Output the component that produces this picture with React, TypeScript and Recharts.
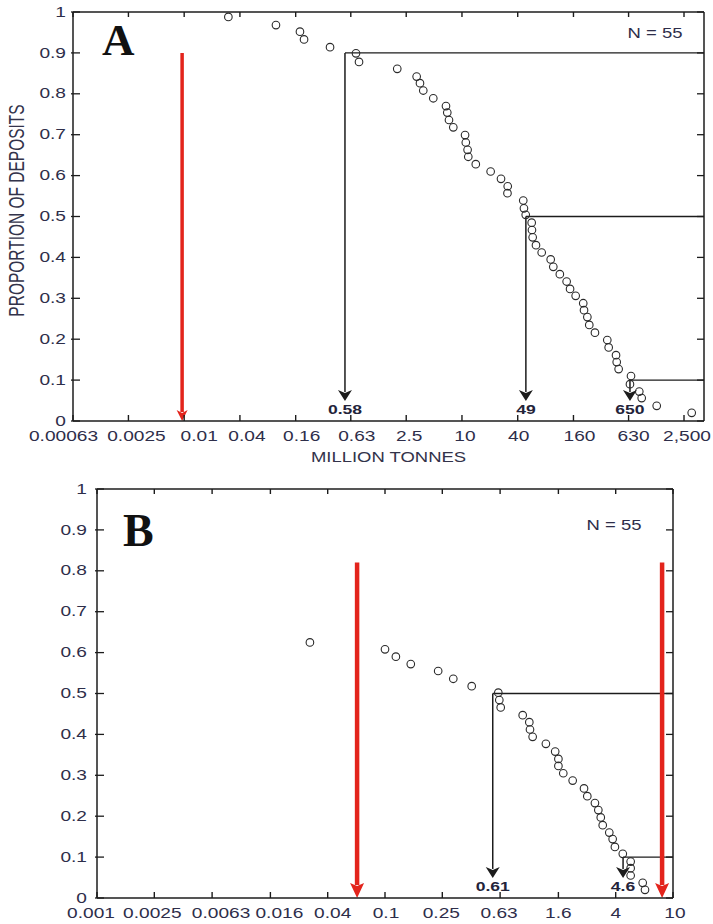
import { ReferenceLine, Scatter, ScatterChart, XAxis, YAxis } from "recharts";

// Two cumulative tonnage plots (A: full tonnage, B: contained metal), log x, proportion y.

const FONT = "'Liberation Sans', Arial, Helvetica, sans-serif";
const SERIF = "'Liberation Serif', 'Times New Roman', serif";
const INK = "#1c1c1c";
const TICK_TEXT = "#2e2e4a";
const RED = "#e3241c";
const STRETCH = 1.32;

const proportionTicks = [0, 0.1, 0.2, 0.3, 0.4, 0.5, 0.6, 0.7, 0.8, 0.9, 1];

// ---- panel A
const tonnageA = [
  0.03, 0.098, 0.178, 0.197, 0.376, 0.717, 0.773, 2.0, 3.24, 3.52, 3.82, 4.9, 6.72, 6.94, 7.24, 8.06, 10.8, 11.0,
  11.5, 11.7, 14.1, 20.4, 26.4, 31.2, 31.0, 45.9, 46.7, 48.8, 56.6, 57, 58.0, 63.0, 72.6, 90.8, 96.9, 114, 135, 147,
  169, 204, 208, 226, 237, 273, 371, 384, 461, 469, 492, 669, 652, 822, 873, 1268, 3027,
];
const proportionA = [
  0.988, 0.968, 0.952, 0.933, 0.914, 0.899, 0.878, 0.861, 0.842, 0.826, 0.808, 0.789, 0.77, 0.754, 0.736, 0.718,
  0.699, 0.681, 0.663, 0.646, 0.628, 0.61, 0.592, 0.574, 0.557, 0.539, 0.52, 0.504, 0.485, 0.467, 0.449, 0.43, 0.412,
  0.395, 0.377, 0.359, 0.341, 0.323, 0.306, 0.288, 0.271, 0.254, 0.235, 0.216, 0.198, 0.18, 0.161, 0.144, 0.127,
  0.11, 0.09, 0.072, 0.056, 0.037, 0.02,
];
const tonnageTicksA = [0.00063, 0.0025, 0.01, 0.04, 0.16, 0.63, 2.5, 10, 40, 160, 630, 2500];
const tonnageDomainA: [number, number] = [0.00063, 4110];
const guideAtA = [0.545, 49, 652];
const guideLevelA = [0.9, 0.5, 0.1];
const guideTextA = ["0.58", "49", "650"];
const redAtA = [0.0095];
const redTopA = 0.9;

// ---- panel B
const tonnageB = [
  0.0301, 0.1, 0.119, 0.151, 0.234, 0.298, 0.4, 0.612, 0.622, 0.636, 0.904, 1.005, 1.016, 1.06, 1.31, 1.52, 1.6, 1.6,
  1.73, 2.01, 2.41, 2.54, 2.87, 3.03, 3.15, 3.25, 3.61, 3.81, 3.95, 4.48, 5.08, 5.08, 5.08, 6.16, 6.39,
];
const proportionB = [
  0.625, 0.608, 0.59, 0.572, 0.555, 0.536, 0.518, 0.502, 0.484, 0.466, 0.447, 0.43, 0.412, 0.394, 0.377, 0.358, 0.34,
  0.323, 0.305, 0.287, 0.268, 0.249, 0.232, 0.215, 0.197, 0.178, 0.16, 0.144, 0.125, 0.108, 0.089, 0.073, 0.055, 0.037,
  0.02,
];
const tonnageTicksB = [0.001, 0.0025, 0.0063, 0.016, 0.04, 0.1, 0.25, 0.63, 1.6, 4, 10];
const tonnageDomainB: [number, number] = [0.001, 10];
const guideAtB = [0.56, 4.5];
const guideLevelB = [0.5, 0.1];
const guideTextB = ["0.61", "4.6"];
const redAtB = [0.064, 8.4];
const redTopB = 0.82;

const GUIDE_TIP = 0.049;

// tick-label nudges (px) — the scanned figure's labels sit a little off their ticks
const labelNudgeA = [-9.5, 8, 15, 7, 6, 6, 3, 3, 1, 6, 5, 3];
const labelNudgeB = [-6, -2, 9, 9, 5, 1, -1, -1, 0, 0, 2];

const formatTonnes = (v: number) => v.toLocaleString("en-US", { maximumFractionDigits: 6 });

function bottomTick(nudge: number[]) {
  return (p: any) => (
    <g>
      <line x1={p.x} x2={p.x} y1={p.y} y2={p.y - 6} stroke={INK} strokeWidth={1.4} />
      <text
        transform={`translate(${p.x + (nudge[p.index] ?? 0)},${p.y + 15}) scale(${STRETCH},1)`}
        textAnchor="middle"
        dominantBaseline="central"
        fontFamily={FONT}
        fontSize={14.5}
        fill={TICK_TEXT}
      >
        {formatTonnes(p.payload.value)}
      </text>
    </g>
  );
}

function leftTick(gap: number) {
  return (p: any) => (
    <g>
      <line x1={p.x - 2} x2={p.x + 7} y1={p.y} y2={p.y} stroke={INK} strokeWidth={1.3} />
      <text
        transform={`translate(${p.x - gap},${p.y}) scale(${STRETCH},1)`}
        textAnchor="end"
        dominantBaseline="central"
        fontFamily={FONT}
        fontSize={14.5}
        fill={TICK_TEXT}
      >
        {String(p.payload.value)}
      </text>
    </g>
  );
}

// top / right axes are 1px wide; ticks start at the frame and point inward
const topTick = (p: any) => <line x1={p.x} x2={p.x} y1={p.y} y2={p.y + 5} stroke={INK} strokeWidth={1.4} />;
const rightTick = (p: any) => <line x1={p.x} x2={p.x - 7} y1={p.y} y2={p.y} stroke={INK} strokeWidth={1.3} />;

function arrowShape(color: string, lineWidth: number, headW: number, headH: number, text?: string) {
  return (p: any) => {
    const { x1, y1, x2, y2 } = p;
    const base = y2 - headH;
    return (
      <g>
        <line x1={x1} y1={y1} x2={x2} y2={base + 2} stroke={color} strokeWidth={lineWidth} />
        <polygon
          points={`${x2 - headW / 2},${base} ${x2},${base + 3} ${x2 + headW / 2},${base} ${x2},${y2}`}
          fill={color}
        />
        {text ? (
          <text
            transform={`translate(${x2},${y2 + 8}) scale(1.35,1)`}
            textAnchor="middle"
            dominantBaseline="central"
            fontFamily={FONT}
            fontWeight="bold"
            fontSize={13}
            fill="#23233a"
          >
            {text}
          </text>
        ) : null}
      </g>
    );
  };
}

const circle = (p: any) => <circle cx={p.cx} cy={p.cy} r={3.8} fill="none" stroke="#2a2a2a" strokeWidth={1.1} />;
const nothing = () => <g />;

function CumulativePanel({
  height,
  margin,
  yAxisWidth,
  xAxisHeight,
  domain,
  ticks,
  tonnage,
  proportion,
  guideAt,
  guideLevel,
  guideText,
  redAt,
  redTop,
  redWidth,
  redHead,
  labelGap,
  labelNudge,
  xTitle,
  yTitle,
}: {
  height: number;
  margin: { top: number; right: number; bottom: number; left: number };
  yAxisWidth: number;
  xAxisHeight: number;
  domain: [number, number];
  ticks: number[];
  tonnage: number[];
  proportion: number[];
  guideAt: number[];
  guideLevel: number[];
  guideText: string[];
  redAt: number[];
  redTop: number;
  redWidth: number;
  redHead: [number, number];
  labelGap: number;
  labelNudge: number[];
  xTitle?: string;
  yTitle?: string;
}) {
  const data = tonnage.map((t, i) => ({ t, p: proportion[i] }));
  const axisLine = { stroke: INK, strokeWidth: 1.5 };

  return (
    <ScatterChart width={713} height={height} margin={margin} accessibilityLayer={false}>
      <XAxis
        dataKey="t"
        type="number"
        scale="log"
        domain={domain}
        allowDataOverflow
        ticks={ticks}
        interval={0}
        height={xAxisHeight}
        tickSize={0}
        tickMargin={0}
        tickLine={false}
        axisLine={axisLine}
        tick={bottomTick(labelNudge)}
        label={
          xTitle
            ? {
                value: xTitle,
                content: (lp: any) => (
                  <text
                    transform={`translate(${lp.viewBox.x + lp.viewBox.width / 2},${lp.viewBox.y + 36}) scale(${STRETCH},1)`}
                    textAnchor="middle"
                    dominantBaseline="central"
                    fontFamily={FONT}
                    fontSize={14}
                    fill="#33334a"
                  >
                    {xTitle}
                  </text>
                ),
              }
            : undefined
        }
      />
      <XAxis
        xAxisId="top"
        dataKey="t"
        orientation="top"
        type="number"
        scale="log"
        domain={domain}
        allowDataOverflow
        ticks={ticks}
        interval={0}
        height={1}
        tickSize={0}
        tickMargin={0}
        tickLine={false}
        axisLine={axisLine}
        tick={topTick}
      />
      <YAxis
        dataKey="p"
        type="number"
        domain={[0, 1]}
        allowDataOverflow
        ticks={proportionTicks}
        interval={0}
        width={yAxisWidth}
        tickSize={0}
        tickMargin={0}
        tickLine={false}
        axisLine={axisLine}
        tick={leftTick(labelGap)}
        label={
          yTitle
            ? {
                value: yTitle,
                content: (lp: any) => (
                  <text
                    transform={`translate(17,${lp.viewBox.y + lp.viewBox.height / 2 - 6}) rotate(-90) scale(1,1.4)`}
                    textAnchor="middle"
                    dominantBaseline="central"
                    fontFamily={FONT}
                    fontSize={15.5}
                    fill="#33334a"
                  >
                    {yTitle}
                  </text>
                ),
              }
            : undefined
        }
      />
      <YAxis
        yAxisId="right"
        dataKey="p"
        orientation="right"
        type="number"
        domain={[0, 1]}
        allowDataOverflow
        ticks={proportionTicks}
        interval={0}
        width={1}
        tickSize={0}
        tickMargin={0}
        tickLine={false}
        axisLine={axisLine}
        tick={rightTick}
      />

      {guideAt.map((at, i) => (
        <ReferenceLine
          key={`h${i}`}
          segment={[
            { x: at, y: guideLevel[i] },
            { x: domain[1], y: guideLevel[i] },
          ]}
          stroke={INK}
          strokeWidth={1.4}
        />
      ))}
      {guideAt.map((at, i) => (
        <ReferenceLine
          key={`v${i}`}
          segment={[
            { x: at, y: guideLevel[i] },
            { x: at, y: GUIDE_TIP },
          ]}
          shape={arrowShape(INK, 1.5, 14, 11, guideText[i])}
        />
      ))}
      {redAt.map((at, i) => (
        <ReferenceLine
          key={`r${i}`}
          segment={[
            { x: at, y: redTop },
            { x: at, y: 0 },
          ]}
          shape={arrowShape(RED, redWidth, redHead[0], redHead[1])}
        />
      ))}

      {/* invisible twin keeps the top/right frame axes bound to data */}
      <Scatter data={data} dataKey="p" xAxisId="top" yAxisId="right" shape={nothing} isAnimationActive={false} />
      <Scatter data={data} dataKey="p" shape={circle} isAnimationActive={false} />
    </ScatterChart>
  );
}

export default function App() {
  return (
    <div style={{ position: "absolute", left: 0, top: 0, width: 713, height: 924, background: "#fff" }}>
      <div style={{ position: "absolute", left: 0, top: 0 }}>
        <CumulativePanel
          height={470}
          margin={{ top: 11, right: 8, bottom: 0, left: 0 }}
          yAxisWidth={73}
          xAxisHeight={49}
          domain={tonnageDomainA}
          ticks={tonnageTicksA}
          tonnage={tonnageA}
          proportion={proportionA}
          guideAt={guideAtA}
          guideLevel={guideLevelA}
          guideText={guideTextA}
          redAt={redAtA}
          redTop={redTopA}
          redWidth={3.5}
          redHead={[11, 11]}
          labelGap={7}
          labelNudge={labelNudgeA}
          xTitle="MILLION TONNES"
          yTitle="PROPORTION OF DEPOSITS"
        />
      </div>
      <div style={{ position: "absolute", left: 0, top: 470 }}>
        <CumulativePanel
          height={454}
          margin={{ top: 18, right: 39, bottom: 0, left: 0 }}
          yAxisWidth={97}
          xAxisHeight={26}
          domain={tonnageDomainB}
          ticks={tonnageTicksB}
          tonnage={tonnageB}
          proportion={proportionB}
          guideAt={guideAtB}
          guideLevel={guideLevelB}
          guideText={guideTextB}
          redAt={redAtB}
          redTop={redTopB}
          redWidth={4.5}
          redHead={[14, 15]}
          labelGap={10}
          labelNudge={labelNudgeB}
        />
      </div>
      <svg width={713} height={924} style={{ position: "absolute", left: 0, top: 0, pointerEvents: "none" }}>
        <text x={102} y={55} fontFamily={SERIF} fontWeight="bold" fontSize={45} fill="#111">
          A
        </text>
        <text x={123} y={546} fontFamily={SERIF} fontWeight="bold" fontSize={46} fill="#111">
          B
        </text>
        <text
          transform={`translate(655,33) scale(${STRETCH},1)`}
          textAnchor="middle"
          dominantBaseline="central"
          fontFamily={FONT}
          fontSize={14}
          fill="#2e2e4a"
        >
          N = 55
        </text>
        <text
          transform={`translate(614,525) scale(${STRETCH},1)`}
          textAnchor="middle"
          dominantBaseline="central"
          fontFamily={FONT}
          fontSize={14}
          fill="#2e2e4a"
        >
          N = 55
        </text>
      </svg>
    </div>
  );
}
